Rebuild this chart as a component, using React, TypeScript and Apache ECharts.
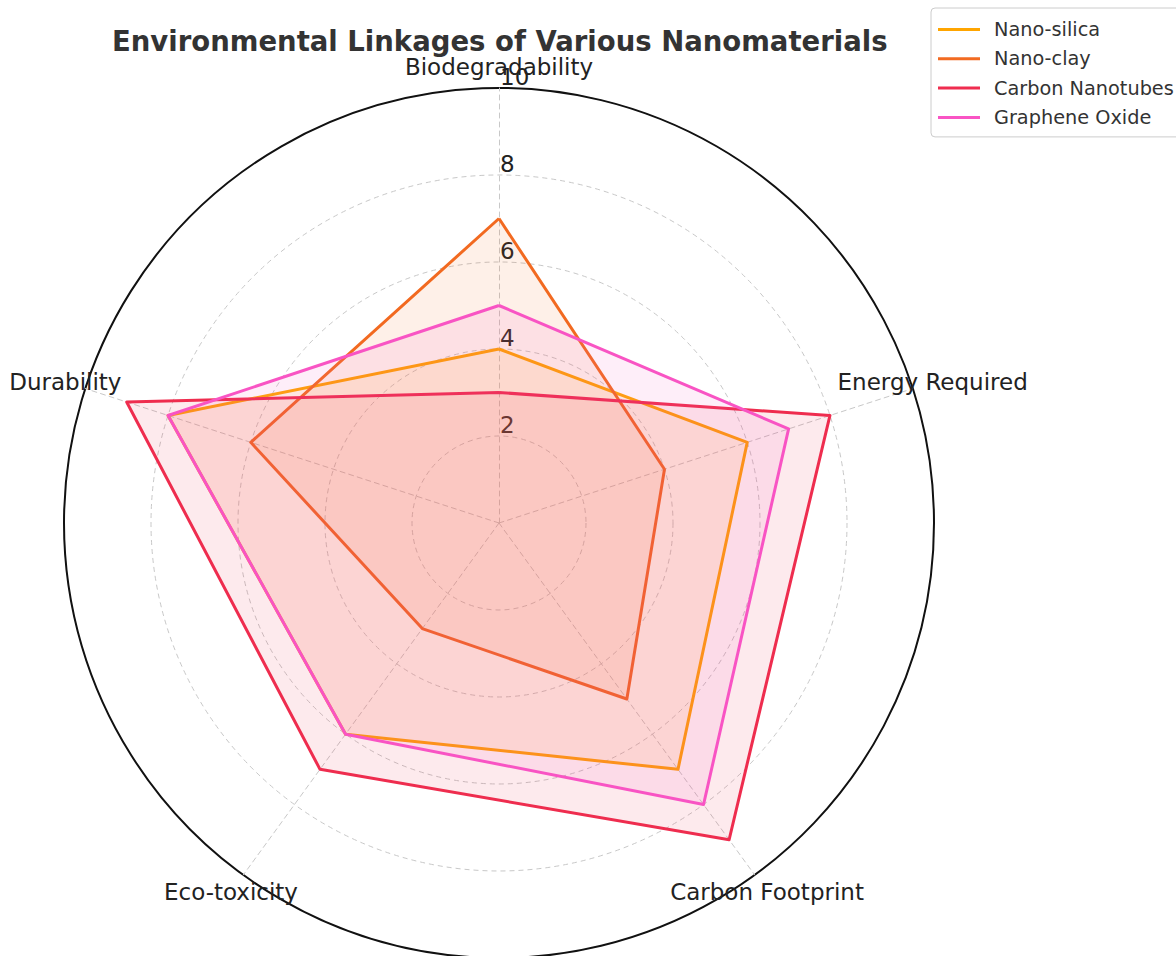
import React, { useEffect, useRef } from "react";
import * as echarts from "echarts";

const categories = ["Biodegradability", "Energy Required", "Carbon Footprint", "Eco-toxicity", "Durability"];
const nanoSilica = [4, 6, 7, 6, 8];
const nanoClay = [7, 4, 5, 3, 6];
const carbonNanotubes = [3, 8, 9, 7, 9];
const grapheneOxide = [5, 7, 8, 6, 8];
const seriesNames = ["Nano-silica", "Nano-clay", "Carbon Nanotubes", "Graphene Oxide"];
const seriesColors = ["#FFA500", "#F26A21", "#EF2D4F", "#F954C4"];
const tickLabels = ["2", "4", "6", "8", "10"];

const FONT = "DejaVu Sans";

export default function App() {
  const ref = useRef<HTMLDivElement>(null);
  useEffect(() => {
    document.body.style.margin = "0";
    const chart = echarts.init(ref.current!, null, { renderer: "svg" });
    const cx = 499;
    const cy = 523;
    const R = 435;
    // ECharts radar runs counter-clockwise; the reference runs clockwise
    const order = [0, 4, 3, 2, 1];
    const values = [nanoSilica, nanoClay, carbonNanotubes, grapheneOxide];
    const nameR = 456;
    const nameTexts = categories.map((c, i) => {
      const a = ((90 - i * 72) * Math.PI) / 180;
      return {
        type: "text",
        x: cx + nameR * Math.cos(a),
        y: cy - nameR * Math.sin(a),
        style: {
          text: c,
          fontFamily: FONT,
          fontSize: 23,
          fill: "#222",
          textAlign: "center",
          textVerticalAlign: "middle",
        },
        z: 10,
      };
    });
    chart.setOption({
      animation: false,
      backgroundColor: "#fff",
      title: {
        text: "Environmental Linkages of Various Nanomaterials",
        left: 107,
        top: 22,
        textStyle: { fontFamily: FONT, fontSize: 27.5, fontWeight: "bold", color: "#333" },
      },
      legend: {
        orient: "vertical",
        left: 931,
        top: 8,
        padding: [12, 8, 10, 7],
        itemGap: 10.3,
        itemWidth: 42,
        itemHeight: 3,
        icon: "rect",
        borderColor: "#ccc",
        borderWidth: 1,
        borderRadius: 4,
        data: seriesNames,
        textStyle: { fontFamily: FONT, fontSize: 19.3, color: "#333", padding: [0, 0, 0, 9] },
      },
      polar: { center: [cx, cy], radius: R },
      angleAxis: {
        type: "value",
        min: 0,
        max: 360,
        axisLine: { show: true, lineStyle: { color: "#111", width: 2 } },
        axisTick: { show: false },
        axisLabel: { show: false },
        splitLine: { show: false },
      },
      radiusAxis: { show: false, min: 0, max: 10 },
      radar: {
        center: [cx, cy],
        radius: R,
        startAngle: 90,
        shape: "circle",
        splitNumber: 5,
        axisName: { show: false },
        axisLine: { lineStyle: { color: "#c8c8c8", type: [5, 4], width: 1 } },
        splitLine: { lineStyle: { color: "#c8c8c8", type: [5, 4], width: 1 } },
        splitArea: { show: false },
        axisLabel: { show: false },
        indicator: order.map((i, k) => ({
          name: categories[i],
          min: 0,
          max: 10,
          axisLabel:
            k === 0
              ? {
                  show: true,
                  fontFamily: FONT,
                  fontSize: 23,
                  color: "#222",
                  align: "left",
                  verticalAlign: "bottom",
                  margin: -1,
                  formatter: (v: number) => (tickLabels.includes(String(v)) ? String(v) : ""),
                }
              : { show: false },
        })),
      },
      graphic: nameTexts,
      series: [
        {
          type: "radar",
          symbol: "none",
          data: values.map((vals, s) => ({
            name: seriesNames[s],
            value: order.map((i) => vals[i]),
            lineStyle: { color: seriesColors[s], width: 3 },
            itemStyle: { color: seriesColors[s] },
            areaStyle: { color: seriesColors[s], opacity: 0.1 },
          })),
        },
      ],
    });
    return () => chart.dispose();
  }, []);
  return <div ref={ref} style={{ width: 1176, height: 956 }} />;
}
